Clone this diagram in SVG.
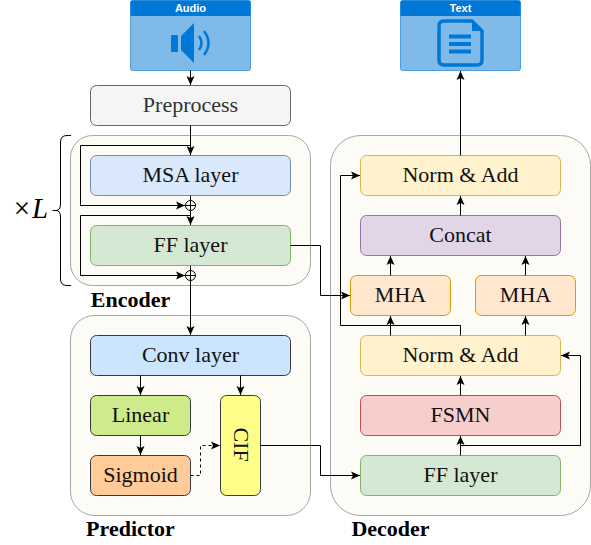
<svg xmlns="http://www.w3.org/2000/svg" width="591" height="545" viewBox="0 0 591 545">
<style>
text{font-family:"Liberation Serif","Times New Roman",serif;font-size:22px;fill:#111;text-anchor:middle}
.h{font-family:"Liberation Sans",Arial,sans-serif;font-size:11px;font-weight:bold;fill:#fff}
.b{font-weight:bold;font-size:22px;fill:#000}
.group{fill:#fcfbf6;stroke:#a6a6a6;stroke-width:1}
.c{fill:none;stroke:#000;stroke-width:1}
.a{marker-end:url(#arr)}
.n{stroke-width:1}
.ic{fill:#0078d7}
</style>
<defs>
<marker id="arr" markerUnits="userSpaceOnUse" markerWidth="10" markerHeight="10" refX="9" refY="5" orient="auto">
<path d="M0 1L9 5L0 9L2 5Z" fill="#000"/>
</marker>
</defs>
<rect width="591" height="545" fill="#fff"/>
<g id="encoder-group"><rect class="group" x="70.500" y="135.500" width="240" height="150" rx="22"/><text class="b" x="130.500" y="307">Encoder</text></g>
<g id="predictor-group"><rect class="group" x="70.500" y="315.500" width="240" height="200" rx="24"/><text class="b" x="130.500" y="536">Predictor</text></g>
<g id="decoder-group"><rect class="group" x="330.500" y="135.500" width="260" height="380" rx="30"/><text class="b" x="390.500" y="536">Decoder</text></g>
<g id="audio">
<rect x="130.500" y="0.500" width="120" height="70" rx="2" fill="#7fbae9" stroke="#4a9fe3"/>
<path d="M130.500 16V2.500a2 2 0 0 1 2-2h116a2 2 0 0 1 2 2V16Z" fill="#0078d7"/>
<text class="h" x="190.500" y="11.500">Audio</text>
<rect class="ic" x="171" y="35" width="7" height="17" rx="1"/>
<path class="ic" d="M181 36L194 23V63L181 50Z"/>
<path d="M199 36Q204 43 199 50M204 31Q213 43 204 55" fill="none" stroke="#0078d7" stroke-width="2.500"/>
</g>
<g id="text-output">
<rect x="400.500" y="0.500" width="120" height="70" rx="2" fill="#7fbae9" stroke="#4a9fe3"/>
<path d="M400.500 16V2.500a2 2 0 0 1 2-2h116a2 2 0 0 1 2 2V16Z" fill="#0078d7"/>
<text class="h" x="460.500" y="11.500">Text</text>
<path d="M444 21H472L482 31V60Q482 65 477 65H444Q439 65 439 60V26Q439 21 444 21Z" fill="none" stroke="#0078d7" stroke-width="3.500"/>
<path class="ic" d="M472 20L483 31H472Z"/>
<rect class="ic" x="449" y="34.500" width="22" height="4"/><rect class="ic" x="449" y="42" width="22" height="4"/><rect class="ic" x="449" y="49.500" width="22" height="4"/>
</g>
<g id="preprocess"><rect class="n" x="90.500" y="85.500" width="200" height="40" rx="6" fill="#f5f5f5" stroke="#666"/><text x="190.500" y="112" style="fill:#333">Preprocess</text></g>
<g id="msa"><rect class="n" x="90.500" y="155.500" width="200" height="40" rx="6" fill="#dae8fc" stroke="#6c8ebf"/><text x="190.500" y="182">MSA layer</text></g>
<g id="ff-enc"><rect class="n" x="90.500" y="225.500" width="200" height="40" rx="6" fill="#d5e8d4" stroke="#82b366"/><text x="190.500" y="252">FF layer</text></g>
<g id="add1"><circle cx="190.500" cy="205.500" r="5" fill="none" stroke="#000"/><path class="c" d="M185.500 205.500H195.500M190.500 200.500V210.500"/></g>
<g id="add2"><circle cx="190.500" cy="275.500" r="5" fill="none" stroke="#000"/><path class="c" d="M185.500 275.500H195.500M190.500 270.500V280.500"/></g>
<g id="conv"><rect class="n" x="90.500" y="335.500" width="200" height="40" rx="6" fill="#cce5ff" stroke="#36393d"/><text x="190.500" y="362">Conv layer</text></g>
<g id="linear"><rect class="n" x="90.500" y="395.500" width="100" height="40" rx="6" fill="#cdeb8b" stroke="#36393d"/><text x="140.500" y="422">Linear</text></g>
<g id="sigmoid"><rect class="n" x="90.500" y="455.500" width="100" height="40" rx="6" fill="#ffcc99" stroke="#36393d"/><text x="140.500" y="482">Sigmoid</text></g>
<g id="cif"><rect class="n" x="220.500" y="395.500" width="40" height="100" rx="6" fill="#ffff88" stroke="#36393d"/><text transform="translate(233.500 444.500) rotate(90)" x="0" y="0">CIF</text></g>
<g id="norm-top"><rect class="n" x="360.500" y="155.500" width="200" height="40" rx="6" fill="#fff2cc" stroke="#d6b656"/><text x="460.500" y="182">Norm &amp; Add</text></g>
<g id="concat"><rect class="n" x="360.500" y="215.500" width="200" height="40" rx="6" fill="#e1d5e7" stroke="#9673a6"/><text x="460.500" y="242">Concat</text></g>
<g id="mha1"><rect class="n" x="350.500" y="275.500" width="100" height="40" rx="6" fill="#ffe6cc" stroke="#d79b00"/><text x="400.500" y="302">MHA</text></g>
<g id="mha2"><rect class="n" x="475.500" y="275.500" width="100" height="40" rx="6" fill="#ffe6cc" stroke="#d79b00"/><text x="525.500" y="302">MHA</text></g>
<g id="norm-bot"><rect class="n" x="360.500" y="335.500" width="200" height="40" rx="6" fill="#fff2cc" stroke="#d6b656"/><text x="460.500" y="362">Norm &amp; Add</text></g>
<g id="fsmn"><rect class="n" x="360.500" y="395.500" width="200" height="40" rx="6" fill="#f8cecc" stroke="#b85450"/><text x="460.500" y="422">FSMN</text></g>
<g id="ff-dec"><rect class="n" x="360.500" y="455.500" width="200" height="40" rx="6" fill="#d5e8d4" stroke="#82b366"/><text x="460.500" y="482">FF layer</text></g>
<g id="brace">
<path class="c" d="M71 135.500H67Q60.500 135.500 60.500 142V204Q60.500 210.500 56 210.500H52.500M56 210.500Q60.500 210.500 60.500 217V279Q60.500 285.500 67 285.500H71"/>
<text x="31" y="218" style="font-size:29px;font-style:italic;fill:#000"><tspan style="font-style:normal">×</tspan><tspan dx="2">L</tspan></text>
</g>
<g id="connectors">
<path class="c a" d="M190.500 70.500V85"/>
<path class="c a" d="M190.500 125.500V155"/>
<path class="c a" d="M190.500 145.500H80.500V205.500H185"/>
<path class="c" d="M190.500 195.500V200.500"/>
<path class="c a" d="M190.500 210.500V225"/>
<path class="c a" d="M190.500 215.500H80.500V275.500H185"/>
<path class="c" d="M190.500 265.500V270.500"/>
<path class="c a" d="M190.500 280.500V335"/>
<path class="c a" d="M140.500 375.500V395"/>
<path class="c a" d="M240.500 375.500V395"/>
<path class="c a" d="M140.500 435.500V455"/>
<path class="c a" d="M190.500 475.500H200.500V445.500H220" stroke-dasharray="3 3"/>
<path class="c a" d="M260.500 445.500H320.500V475.500H360"/>
<path class="c a" d="M290.500 245.500H320.500V295.500H350"/>
<path class="c a" d="M460.500 455.500V436"/>
<path class="c a" d="M460.500 445.500H580.500V355.500H561"/>
<path class="c a" d="M460.500 395.500V376"/>
<path class="c a" d="M390.500 335.500V316"/>
<path class="c a" d="M525.500 335.500V316"/>
<path class="c a" d="M460.500 335.500V325.500H340.500V175.500H360"/>
<path class="c a" d="M390.500 275.500V256"/>
<path class="c a" d="M525.500 275.500V256"/>
<path class="c a" d="M460.500 215.500V196"/>
<path class="c a" d="M460.500 155.500V71"/>
</g>
</svg>
